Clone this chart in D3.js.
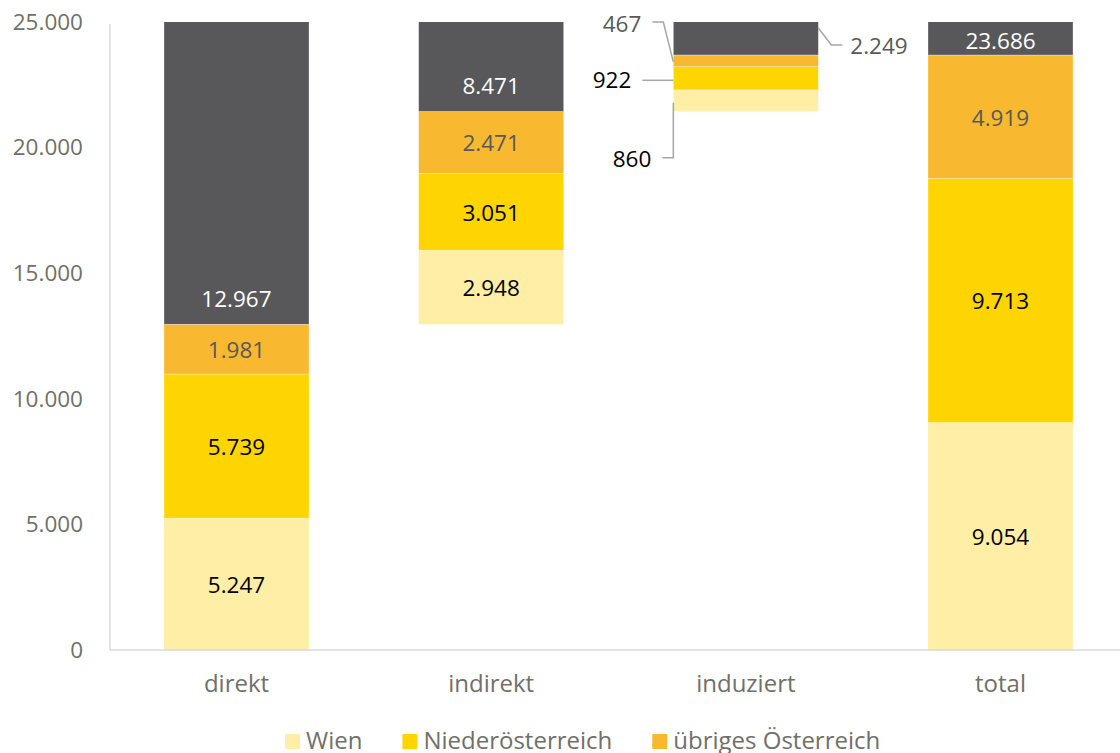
<!DOCTYPE html>
<html>
<head>
<meta charset="utf-8">
<script src="https://cdn.jsdelivr.net/npm/d3@7"></script>
<style>
  html, body { margin: 0; padding: 0; background: #fff; }
  svg { display: block; font-family: "Open Sans", "Noto Sans", sans-serif; }
</style>
</head>
<body>
<svg id="chart" width="1120" height="753"></svg>
<script>
// ---- data ----
const categories = ["direkt", "indirekt", "induziert", "total"];
const offsetBase = [0, 12967, 21438, 0];          // invisible waterfall base
const wien = [5247, 2948, 860, 9054];
const niederoesterreich = [5739, 3051, 922, 9713];
const uebrigesOesterreich = [1981, 2471, 467, 4919];
const summe = [12967, 8471, 2249, 23686];          // dark segment (sum)
const seriesNames = ["Wien", "Niederösterreich", "übriges Österreich", "Summe"];
const legendNames = ["Wien", "Niederösterreich", "übriges Österreich"];
const yTicks = [0, 5000, 10000, 15000, 20000, 25000];

const colors = {
  "Wien": "#FFEEA6",
  "Niederösterreich": "#FFD500",
  "übriges Österreich": "#F8B930",
  "Summe": "#58585B"
};
const labelColors = {
  "Wien": "#000000",
  "Niederösterreich": "#000000",
  "übriges Österreich": "#58585A",
  "Summe": "#FFFFFF"
};

const locale = d3.formatLocale({decimal: ",", thousands: ".", grouping: [3], currency: ["", "€"]});
const fmt = locale.format(",d");

const svg = d3.select("#chart");
const FS = 22.5;
const FS_CAT = 24;

const x = d3.scaleBand().domain(categories).range([110, 1127]).paddingInner(0.4306).paddingOuter(0.212);
const y = d3.scaleLinear().domain([0, 25000]).range([650, 22]);

// build stacked rows
const rows = categories.map((c, i) => {
  const vals = [wien[i], niederoesterreich[i], uebrigesOesterreich[i], summe[i]];
  let acc = offsetBase[i];
  return vals.map((v, k) => {
    const s = {cat: c, idx: i, name: seriesNames[k], value: v, y0: acc, y1: acc + v};
    acc += v;
    return s;
  });
});

svg.append("defs").append("clipPath").attr("id", "plotclip")
  .append("rect").attr("x", 0).attr("y", y(25000)).attr("width", 1120).attr("height", y(0) - y(25000));

// axis line
svg.append("line").attr("x1", 110).attr("x2", 110).attr("y1", y(25000) + 2).attr("y2", y(0))
  .attr("stroke", "#D9D9D9").attr("stroke-width", 1.5);

// y tick labels
const yAxis = d3.axisLeft(y).tickValues(yTicks).tickFormat(fmt).tickSize(0).tickPadding(27);
const gy = svg.append("g").attr("transform", "translate(110,0)").call(yAxis);
gy.select(".domain").remove();
gy.selectAll("text").attr("font-size", FS).attr("fill", "#707068")
  .attr("font-family", "'Open Sans', sans-serif");

// bars
const g = svg.append("g").attr("clip-path", "url(#plotclip)");
rows.forEach(segs => {
  g.selectAll(null).data(segs).enter().append("rect")
    .attr("x", d => x(d.cat))
    .attr("width", x.bandwidth())
    .attr("y", d => y(d.y1))
    .attr("height", d => y(d.y0) - y(d.y1))
    .attr("fill", d => colors[d.name])
    .attr("stroke", "#ffffff").attr("stroke-opacity", 0.5).attr("stroke-width", 0.6);
});

// baseline
svg.append("line").attr("x1", 110).attr("x2", 1120).attr("y1", y(0)).attr("y2", y(0))
  .attr("stroke", "#D9D9D9").attr("stroke-width", 1.5);

// x category labels
const xAxis = d3.axisBottom(x).tickSize(0).tickPadding(25);
const gx = svg.append("g").attr("transform", `translate(0,${y(0)})`).call(xAxis);
gx.select(".domain").remove();
gx.selectAll("text").attr("font-size", FS_CAT).attr("fill", "#707068")
  .attr("font-family", "'Open Sans', sans-serif");

// in-bar labels (all except induziert)
const labels = svg.append("g").attr("font-size", FS).attr("text-anchor", "middle");
rows.forEach(segs => {
  if (segs[0].cat === "induziert") return;
  segs.forEach(d => {
    let cy;
    if (d.name === "Summe") {
      const bottom = y(d.y0);
      const top = Math.max(y(d.y1), y(25000));
      cy = Math.max(bottom - 25, (top + bottom) / 2 + 3);
    } else {
      cy = (y(d.y0) + y(d.y1)) / 2 + 1;
    }
    labels.append("text")
      .attr("x", x(d.cat) + x.bandwidth() / 2)
      .attr("y", cy)
      .attr("dy", "0.35em")
      .attr("fill", labelColors[d.name])
      .text(fmt(d.value));
  });
});

// induziert labels with leader lines
const ind = rows[2];
const bx0 = x("induziert"), bx1 = x("induziert") + x.bandwidth();
const mid = d => (y(d.y0) + y(d.y1)) / 2;
const lead = svg.append("g").attr("fill", "none").attr("stroke", "#A6A6A6").attr("stroke-width", 1.5);
const ann = svg.append("g").attr("font-size", FS);

// übriges (467)
{
  const d = ind[2];
  const ay = mid(d) + 1, ly = y(25000);
  lead.append("polyline").attr("points", `${bx0},${ay} ${bx0 - 10},${ly} ${bx0 - 21},${ly}`);
  ann.append("text").attr("x", bx0 - 32).attr("y", ly + 2).attr("dy", "0.35em").attr("text-anchor", "end")
    .attr("fill", "#58585A").text(fmt(d.value));
}
// NÖ (922)
{
  const d = ind[1];
  const ay = mid(d) + 2;
  lead.append("polyline").attr("points", `${bx0},${ay} ${bx0 - 31},${ay}`);
  ann.append("text").attr("x", bx0 - 42).attr("y", ay).attr("dy", "0.35em").attr("text-anchor", "end")
    .attr("fill", "#000").text(fmt(d.value));
}
// Wien (860)
{
  const d = ind[0];
  const ay = mid(d) + 2, ly = ay + 55;
  lead.append("polyline").attr("points", `${bx0},${ay} ${bx0},${ly} ${bx0 - 11},${ly}`);
  ann.append("text").attr("x", bx0 - 22).attr("y", ly + 1).attr("dy", "0.35em").attr("text-anchor", "end")
    .attr("fill", "#000").text(fmt(d.value));
}
// Summe (2.249)
{
  const d = ind[3];
  const ay = y(d.y0) - 27, ly = ay + 17;
  lead.append("polyline").attr("points", `${bx1},${ay} ${bx1 + 13},${ly} ${bx1 + 24},${ly}`);
  ann.append("text").attr("x", bx1 + 32).attr("y", ly + 1).attr("dy", "0.35em").attr("text-anchor", "start")
    .attr("fill", "#58585A").text(fmt(d.value));
}

// legend
const leg = svg.append("g").attr("transform", "translate(285,741)");
let lx = 0;
legendNames.forEach(n => {
  const it = leg.append("g").attr("transform", `translate(${lx},0)`);
  it.append("rect").attr("x", 0).attr("y", -7).attr("width", 15).attr("height", 15).attr("fill", colors[n]);
  const t = it.append("text").attr("x", 21).attr("y", 0).attr("dy", "0.35em")
    .attr("font-size", FS_CAT).attr("fill", "#707068").text(n);
  lx += 21 + t.node().getComputedTextLength() + 40;
});
</script>
</body>
</html>
